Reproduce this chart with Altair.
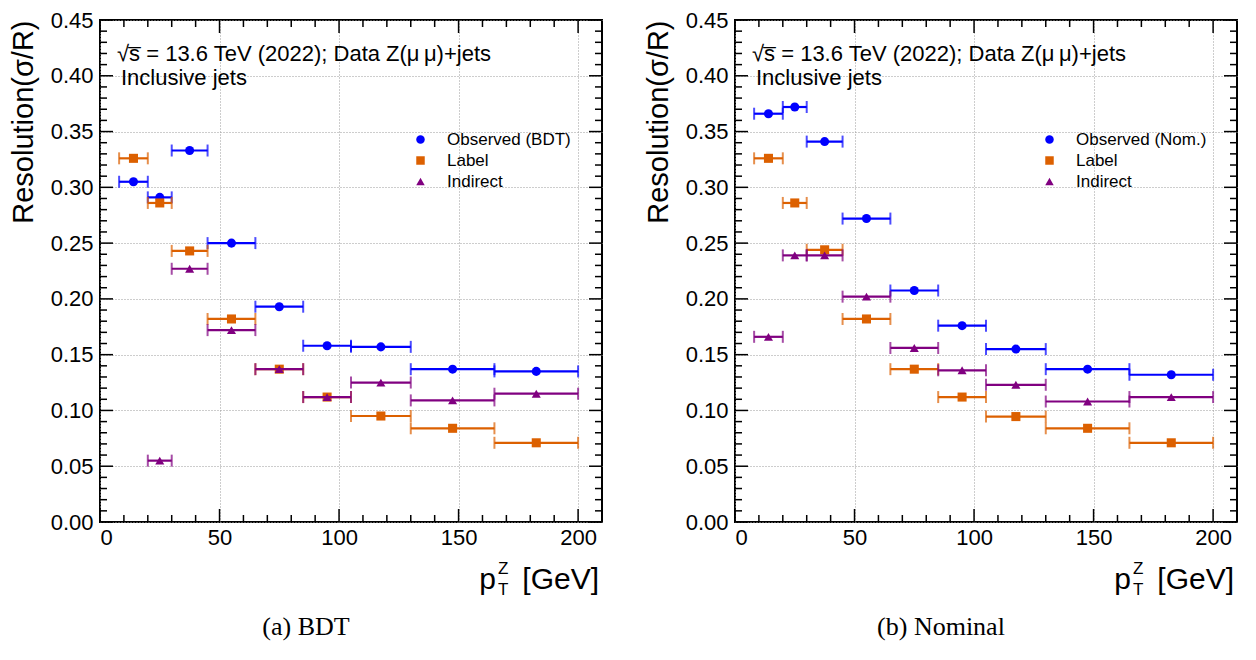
import altair as alt
import pandas as pd

# ---------------- data ----------------
bin_lo = [8, 20, 30, 45, 65, 85, 105, 130, 165]
bin_hi = [20, 30, 45, 65, 85, 105, 130, 165, 200]
bin_center = [14, 25, 37.5, 55, 75, 95, 117.5, 147.5, 182.5]

bdt_observed = [0.305, 0.291, 0.333, 0.250, 0.193, 0.158, 0.157, 0.137, 0.135]
bdt_label = [0.326, 0.286, 0.243, 0.182, 0.137, 0.112, 0.095, 0.084, 0.071]
bdt_indirect = [None, 0.055, 0.227, 0.172, 0.137, 0.112, 0.125, 0.109, 0.115]

nom_observed = [0.366, 0.372, 0.341, 0.272, 0.2075, 0.176, 0.155, 0.137, 0.132]
nom_label = [0.326, 0.286, 0.244, 0.182, 0.137, 0.112, 0.0945, 0.084, 0.071]
nom_indirect = [0.166, 0.239, 0.239, 0.202, 0.156, 0.136, 0.123, 0.108, 0.112]

names_bdt = ["Observed (BDT)", "Label", "Indirect"]
names_nom = ["Observed (Nom.)", "Label", "Indirect"]
series_colors = ["#0000ff", "#dc6000", "#800080"]
series_shapes = ["circle", "square", "triangle-up"]

y_major = [0.00, 0.05, 0.10, 0.15, 0.20, 0.25, 0.30, 0.35, 0.40, 0.45]
y_minor = [0.01, 0.02, 0.03, 0.04, 0.06, 0.07, 0.08, 0.09, 0.11, 0.12, 0.13, 0.14,
           0.16, 0.17, 0.18, 0.19, 0.21, 0.22, 0.23, 0.24, 0.26, 0.27, 0.28, 0.29,
           0.31, 0.32, 0.33, 0.34, 0.36, 0.37, 0.38, 0.39, 0.41, 0.42, 0.43, 0.44]
x_major = [0, 50, 100, 150, 200]
x_minor = [10, 20, 30, 40, 60, 70, 80, 90, 110, 120, 130, 140, 160, 170, 180, 190]

y_title = "Resolution(σ/R)"
info_line1 = "√s\u0305 = 13.6 TeV (2022); Data Z(μ\u2009μ)+jets"
info_line2 = "Inclusive jets"
caption_bdt = "(a) BDT"
caption_nom = "(b) Nominal"

FONT = "Liberation Sans"
W, H = 502, 502
MAJ, MIN = 13, 7


def panel(names, obs, lab, ind, caption, leg_x):
    xs = alt.Scale(domain=[0, 210], nice=False, zero=False)
    ys = alt.Scale(domain=[0, 0.45], nice=False, zero=False)
    cs = alt.Scale(domain=names, range=series_colors)
    ss = alt.Scale(domain=names, range=series_shapes)

    # axes layer (invisible point carries the axes)
    axis_df = pd.DataFrame({"x": [0], "y": [0]})
    axes = alt.Chart(axis_df).mark_point(opacity=0).encode(
        x=alt.X("x:Q", scale=xs, axis=alt.Axis(
            title=None, values=x_major, ticks=False, domain=False, labelFontSize=22,
            labelPadding=5, labelColor="black", labelFont=FONT, grid=True,
            gridColor="#9a9a9a", gridDash=[1, 2], gridWidth=1)),
        y=alt.Y("y:Q", scale=ys, axis=alt.Axis(
            title=y_title, values=y_major, format=".2f", ticks=False, domain=False,
            labelFontSize=22, labelPadding=7, labelColor="black", labelFont=FONT,
            titleFont=FONT, titleFontSize=29, titleFontWeight="normal", titleColor="black",
            titleAnchor="end", titlePadding=12, grid=True, gridColor="#9a9a9a",
            gridDash=[1, 2], gridWidth=1)),
    )
    layers = [axes]

    # inner frame ticks (ROOT style, all four sides)
    for vals, length, orient in [(y_major, MAJ, "y"), (y_minor, MIN, "y"),
                                 (x_major, MAJ, "x"), (x_minor, MIN, "x")]:
        if orient == "y":
            d = pd.DataFrame({"y": vals})
            enc_y = alt.Y("y:Q", scale=ys)
            layers.append(alt.Chart(d).mark_rule(color="black", strokeWidth=1.5).encode(
                y=enc_y, x=alt.value(0), x2=alt.value(length)))
            layers.append(alt.Chart(d).mark_rule(color="black", strokeWidth=1.5).encode(
                y=enc_y, x=alt.value(W - length), x2=alt.value(W)))
        else:
            d = pd.DataFrame({"x": vals})
            enc_x = alt.X("x:Q", scale=xs)
            layers.append(alt.Chart(d).mark_rule(color="black", strokeWidth=1.5).encode(
                x=enc_x, y=alt.value(0), y2=alt.value(length)))
            layers.append(alt.Chart(d).mark_rule(color="black", strokeWidth=1.5).encode(
                x=enc_x, y=alt.value(H - length), y2=alt.value(H)))

    legend = alt.Legend(orient="none", legendX=leg_x, legendY=111, title=None,
                        labelFont=FONT, labelFontSize=17, labelColor="black",
                        symbolSize=72, rowPadding=3, labelOffset=18)
    for name, vals, colr in zip(names, [obs, lab, ind], series_colors):
        keep = [i for i, v in enumerate(vals) if v is not None]
        bars = pd.DataFrame({"series": [name] * len(keep),
                             "x": [bin_lo[i] for i in keep],
                             "x2": [bin_hi[i] for i in keep],
                             "y": [vals[i] for i in keep]})
        caps = pd.DataFrame({"x": [bin_lo[i] for i in keep] + [bin_hi[i] for i in keep],
                             "y": [vals[i] for i in keep] * 2})
        pts = pd.DataFrame({"series": [name] * len(keep),
                            "x": [bin_center[i] for i in keep],
                            "y": [vals[i] for i in keep]})
        layers.append(alt.Chart(bars).mark_rule(strokeWidth=2.2, color=colr).encode(
            x=alt.X("x:Q", scale=xs), x2="x2:Q", y=alt.Y("y:Q", scale=ys)))
        layers.append(alt.Chart(caps).mark_tick(orient="vertical", size=12, thickness=2,
                                                color=colr).encode(
            x=alt.X("x:Q", scale=xs), y=alt.Y("y:Q", scale=ys)))
        layers.append(alt.Chart(pts).mark_point(filled=True, size=82, opacity=1).encode(
            x=alt.X("x:Q", scale=xs),
            y=alt.Y("y:Q", scale=ys),
            color=alt.Color("series:N", scale=cs, sort=names, legend=legend),
            shape=alt.Shape("series:N", scale=ss, sort=names, legend=legend)))

    # annotations
    one = pd.DataFrame({"a": [0]})

    def txt(s, x, y, size, align="left"):
        return alt.Chart(one).mark_text(text=s, align=align, baseline="alphabetic",
                                        font=FONT, fontSize=size, color="black").encode(
            x=alt.value(x), y=alt.value(y))
    layers.append(txt(info_line1, 17, 41, 22))
    layers.append(txt(info_line2, 21, 65, 22))
    # x-axis title p_T^Z [GeV]
    layers.append(txt("[GeV]", W - 3, H + 67, 30, "right"))
    layers.append(txt("p", 396, H + 67, 30, "right"))
    layers.append(txt("Z", 398, H + 52, 17))
    layers.append(txt("T", 398, H + 73, 17))

    return alt.layer(*layers).properties(
        width=W, height=H,
        title=alt.TitleParams(caption, orient="bottom", font="Liberation Serif",
                              fontSize=26, fontWeight="normal", anchor="middle",
                              frame="bounds", offset=16, color="black"))


left = panel(names_bdt, bdt_observed, bdt_label, bdt_indirect, caption_bdt, 312)
right = panel(names_nom, nom_observed, nom_label, nom_indirect, caption_nom, 306)

chart = alt.hconcat(left, right, spacing=39).resolve_scale(
    color="independent", shape="independent"
).properties(
    padding={"left": 0, "top": 0, "right": 0, "bottom": 0}
).configure_view(stroke="black", strokeWidth=2)

chart.save("out.html", embed_options={"renderer": "svg", "actions": False})
